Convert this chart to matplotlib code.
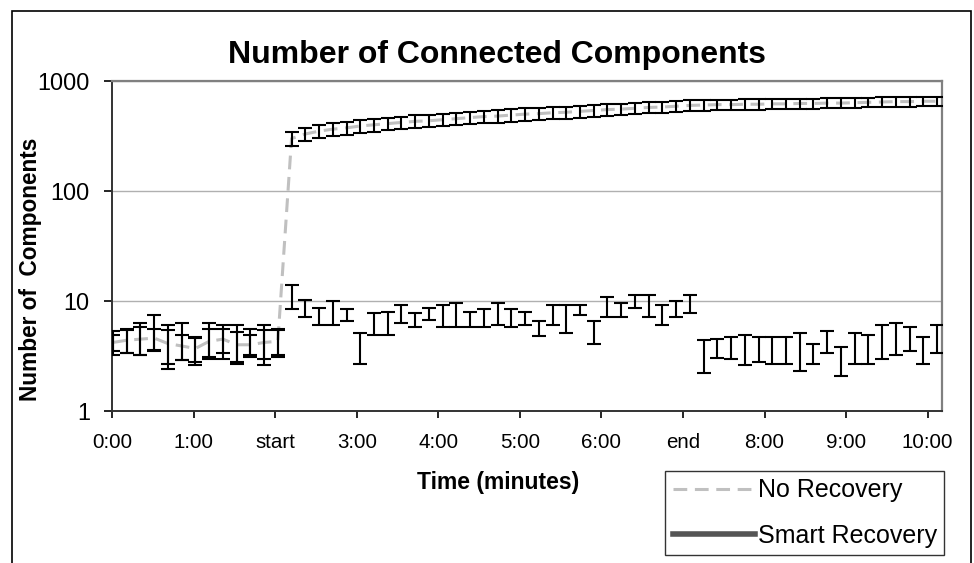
import matplotlib
matplotlib.use("Agg")
import matplotlib.pyplot as plt
from matplotlib.lines import Line2D
from matplotlib.patches import Rectangle

plt.rcParams.update({
    "font.family": ["Liberation Sans", "DejaVu Sans"],
})

# -------- data (10 s samples, index 0..60) --------
tick_labels = ["0:00", "1:00", "start", "3:00", "4:00", "5:00",
               "6:00", "end", "8:00", "9:00", "10:00"]

no_rec_mean = [4.2, 4.4, 4.5, 4.6, 4.1, 3.9, 3.7, 4.3, 4.5, 4.0, 4.0, 4.2, 4.3,
               300, 330, 350, 365, 375, 390, 400, 410, 420, 430, 435, 445,
               455, 465, 475, 480, 490, 500, 505, 515, 520, 530, 540, 550,
               555, 565, 575, 580, 590, 600, 605, 610, 610, 615, 615, 620,
               620, 625, 625, 630, 630, 635, 640, 645, 650, 650, 655, 655]
no_rec_err = [0.7, 1.0, 1.3, 1.0, 1.4, 1.0, 0.9, 1.3, 1.1, 1.2, 0.9, 1.2, 1.1,
              42, 45, 47, 49, 50, 52, 53, 54, 55, 56, 57, 58,
              59, 60, 61, 61, 62, 63, 63, 64, 64, 65, 65, 66,
              66, 66, 66, 66, 66, 66, 66, 65, 65, 65, 65, 65,
              65, 64, 64, 64, 64, 64, 64, 64, 64, 64, 63, 63]

smart_mean = [4.25, 4.5, 4.75, 5.5, 4.2, 4.6, 3.65, 4.7, 4.5, 4.35, 4.4, 4.3, 4.35,
              11.2, 8.75, 7.35, 7.95, 7.5, 3.9, 6.3, 6.45, 7.75, 6.75, 7.7, 7.5,
              7.65, 6.9, 7.1, 7.75, 7.1, 7.0, 5.7, 7.6, 7.15, 8.35, 5.35, 8.95,
              8.35, 10.0, 9.2, 7.6, 8.55, 9.5, 3.3, 3.78, 3.83, 3.75, 3.75, 3.7,
              3.7, 3.73, 3.4, 4.33, 2.95, 3.93, 3.8, 4.48, 4.78, 4.65, 3.7, 4.68]
smart_err = [1.05, 1.1, 1.55, 2.0, 1.8, 1.7, 1.05, 1.6, 1.5, 1.65, 1.2, 1.7, 1.25,
             2.8, 1.55, 1.35, 1.95, 0.9, 1.2, 1.4, 1.55, 1.45, 0.95, 1.0, 1.7,
             1.85, 1.1, 1.3, 1.75, 1.3, 1.0, 0.9, 1.6, 2.05, 0.85, 1.25, 1.85,
             1.25, 1.3, 2.1, 1.6, 1.45, 1.8, 1.1, 0.73, 0.88, 1.15, 0.95, 1.0,
             1.0, 1.43, 0.7, 0.98, 0.85, 1.23, 1.1, 1.53, 1.58, 1.15, 1.0, 1.33]

x = list(range(len(no_rec_mean)))

fig = plt.figure(figsize=(9.74, 5.63), dpi=100)
ax = fig.add_axes([0.115, 0.270, 0.8522, 0.5861])

# No Recovery: dashed light gray line + error bars
ax.plot(x, no_rec_mean, color="#c0c0c0", linewidth=2.2,
        dashes=(4.5, 2.5), zorder=2)
ax.errorbar(x, no_rec_mean, yerr=no_rec_err, fmt="none", ecolor="black",
            elinewidth=1.5, capsize=4.8, capthick=1.5, zorder=3)

# Smart Recovery: error bars only
ax.errorbar(x, smart_mean, yerr=smart_err, fmt="none", ecolor="black",
            elinewidth=1.5, capsize=4.8, capthick=1.5, zorder=3)

ax.set_yscale("log")
ax.set_ylim(1, 1000)
ax.set_yticks([1, 10, 100, 1000])
ax.set_yticklabels(["1", "10", "100", "1000"])
ax.minorticks_off()
ax.yaxis.grid(True, color="#b0b0b0", linewidth=1)
ax.set_axisbelow(True)

tick_step = 5.939
ax.set_xlim(-0.073, 60.36)
ax.set_xticks([-0.073 + k * tick_step for k in range(11)])
ax.set_xticklabels(tick_labels)

ax.tick_params(axis="y", direction="out", length=6, width=1.2,
               labelsize=16.8, pad=10, colors="black")
ax.tick_params(axis="x", direction="out", length=5, width=1.2,
               labelsize=14.8, pad=11, colors="black")

for side in ["top", "right"]:
    ax.spines[side].set_color("#808080")
    ax.spines[side].set_linewidth(1.6)
for side in ["left", "bottom"]:
    ax.spines[side].set_color("#333333")
    ax.spines[side].set_linewidth(1.4)

fig.text(497 / 974, 1 - 55 / 563, "Number of Connected Components",
         ha="center", va="center", fontsize=23, fontweight="bold")
fig.text(498 / 974, 1 - 482 / 563, "Time (minutes)",
         ha="center", va="center", fontsize=16.5, fontweight="bold")
fig.text(31 / 974, 1 - 269 / 563, "Number of  Components", rotation=90,
         ha="center", va="center", fontsize=16.3, fontweight="bold")

handles = [
    Line2D([], [], color="#c0c0c0", linewidth=2.2, dashes=(4.5, 2.5)),
    Line2D([], [], color="#555555", linewidth=4),
]
leg = fig.legend(handles, ["No Recovery", "Smart Recovery"],
                 loc="upper left", bbox_to_anchor=(665 / 974, 1 - 471 / 563),
                 fontsize=18, frameon=True, fancybox=False,
                 edgecolor="black", borderaxespad=0, handlelength=3.3,
                 handletextpad=0.1, labelspacing=0.85, borderpad=0.3)
leg.get_frame().set_linewidth(1.0)

# outer chart border (bottom runs off the image)
fig.add_artist(Rectangle((12 / 974, -0.1), (971 - 12) / 974, 1.1 - 11 / 563,
                         transform=fig.transFigure, fill=False,
                         edgecolor="black", linewidth=1.2, clip_on=False))

fig.savefig("out.png", dpi=100)
